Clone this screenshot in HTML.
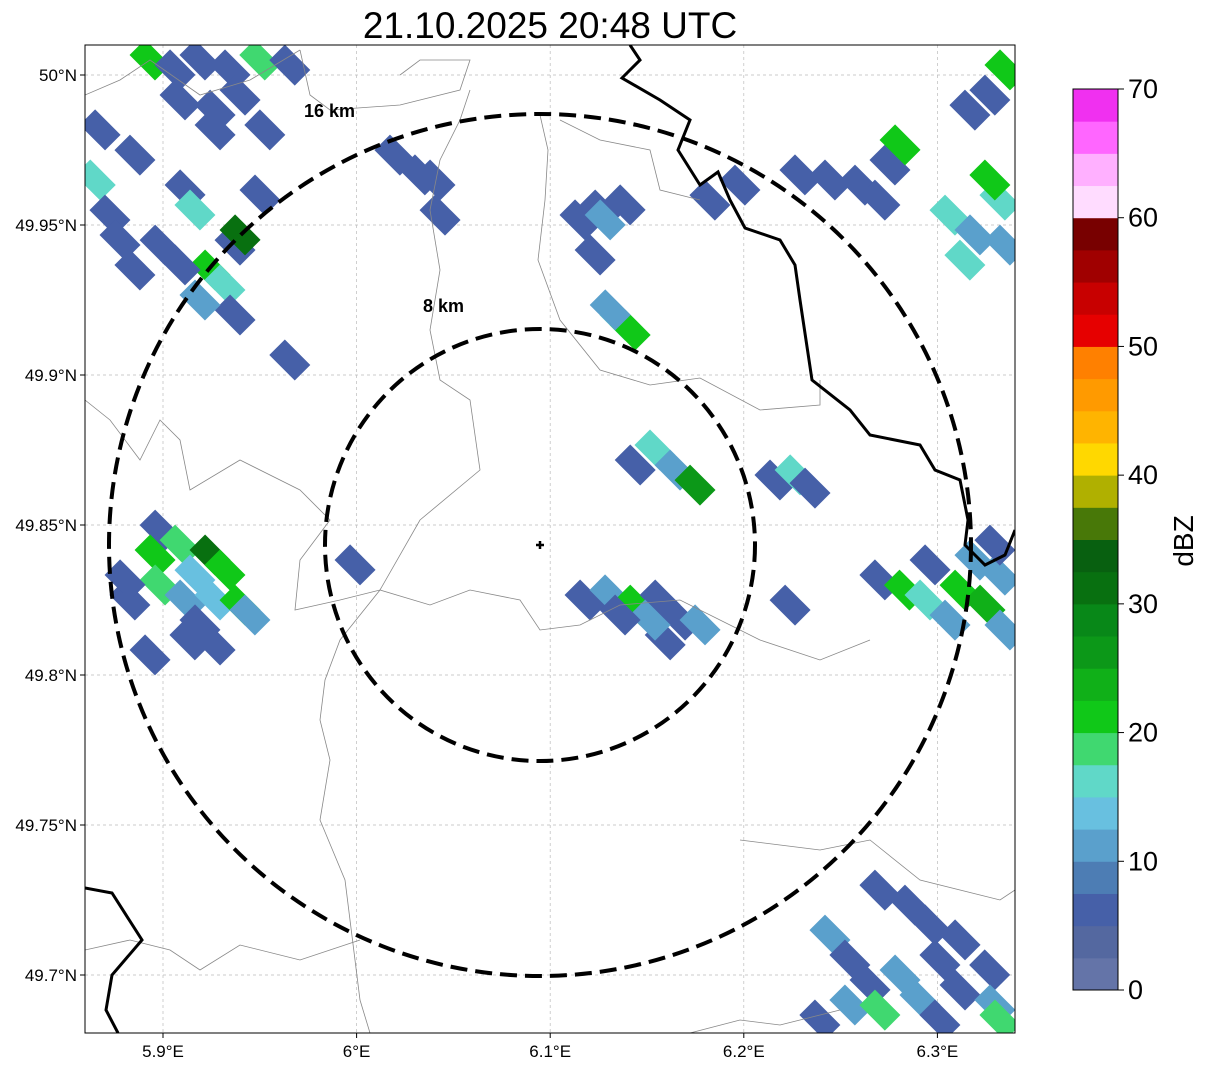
<!DOCTYPE html>
<html><head><meta charset="utf-8"><style>
body{margin:0;background:#fff;font-family:"Liberation Sans",sans-serif}
svg text{font-family:"Liberation Sans",sans-serif}
</style></head><body>
<svg id="s" width="1207" height="1069" xmlns="http://www.w3.org/2000/svg">
<defs><clipPath id="clip"><rect x="85" y="45" width="930" height="988"/></clipPath></defs>
<text x="550" y="38" text-anchor="middle" font-size="37">21.10.2025 20:48 UTC</text>
<g id="grid"></g>
<g id="cells" clip-path="url(#clip)"></g>
<g clip-path="url(#clip)" fill="none" stroke="#888" stroke-width="0.8">
<polyline points="540,115 548,150 545,200 538,260 560,320 600,370 650,385 700,378 760,410 820,405 820,380"/>
<polyline points="85,95 120,80 150,60 200,95 250,80 300,50"/>
<polyline points="300,50 310,95 330,110 400,105 460,90 470,60 420,60 400,75"/>
<polyline points="470,90 460,120 440,160 430,210 440,270 430,330 440,380 470,400 480,470 420,520 380,590 340,640 325,680 320,720 330,760 320,820 345,880 360,1000 370,1033"/>
<polyline points="85,400 110,420 140,460 160,420 180,440 190,490 240,460 300,490 330,520 300,560 295,610 340,600 380,590 430,605 470,590 520,600 540,630 580,625 620,605 680,600 720,620 760,640 820,660 870,640"/>
<polyline points="85,950 130,940 170,950 200,970 240,945 300,960 360,940"/>
<polyline points="560,120 600,140 650,150 660,190 700,200"/>
<polyline points="740,840 820,850 870,840 920,880 1000,900 1015,890"/>
<polyline points="690,1033 740,1020 780,1025 840,1010"/>
</g>
<g clip-path="url(#clip)" fill="none" stroke="#000" stroke-width="3">
<polyline points="630,45 640,60 622,78 660,100 690,120 678,150 700,185 718,172 730,200 745,228 780,240 795,265 800,300 812,380 850,410 870,435 920,445 935,470 960,480 968,520 965,545 985,565 1005,555 1015,530"/>
<polyline points="85,888 112,893 142,940 112,975 106,1010 118,1033"/>
</g>
<g clip-path="url(#clip)" fill="none" stroke="#000" stroke-width="4" stroke-dasharray="17,8">
<ellipse cx="540" cy="545" rx="431" ry="431"/>
<ellipse cx="540" cy="545" rx="215" ry="216"/>
</g>
<text x="304" y="117" font-size="18" font-weight="bold">16 km</text>
<text x="423" y="312" font-size="18" font-weight="bold">8 km</text>
<path d="M536 545 H544 M540 541 V549" stroke="#000" stroke-width="2.5"/>
<rect x="85" y="45" width="930" height="988" fill="none" stroke="#000" stroke-width="1"/>
<g id="axes"></g>
<g id="cbar"></g>
<text transform="translate(1193,541) rotate(-90)" text-anchor="middle" font-size="28">dBZ</text>
</svg>
<script>
const lonTicks=[5.9,6.0,6.1,6.2,6.3];
const lonLabels=["5.9°E","6°E","6.1°E","6.2°E","6.3°E"];
const latTicks=[50.0,49.95,49.9,49.85,49.8,49.75,49.7];
const latLabels=["50°N","49.95°N","49.9°N","49.85°N","49.8°N","49.75°N","49.7°N"];
const cbTicks=[0,10,20,30,40,50,60,70];
const cbColors=["#6474a8","#5468a0","#4660a8","#4d7db4","#5aa0cc","#68c0e0","#60d8c8","#40d870","#10c818","#10b018","#0c9818","#088818","#087010","#086010","#487808","#b0b000","#ffd800","#ffb400","#ff9a00","#ff8000","#e60000","#c80000","#a00000","#780000","#ffdcff","#ffb0ff","#ff66ff","#f030f0"];
const cellLon=[5.8675,5.865,5.8726,5.8778,5.8855,5.8933,5.9062,5.9191,5.9346,5.95,5.9655,5.9088,5.9269,5.9398,5.9269,5.9114,5.9165,5.9243,5.932,5.9088,5.9372,5.9398,5.8985,5.9526,5.9501,5.9655,5.8855,5.9372,5.9191,
6.0198,6.0327,6.0405,6.0431,6.1154,6.1258,6.1387,6.1284,6.1232,6.1361,6.1413,6.131,
6.1825,6.198,6.229,6.2445,6.26,6.2755,6.2807,6.2703,6.3168,6.3271,6.3349,6.3065,6.3194,6.3323,6.3271,6.3142,6.3349,
6.1541,6.1645,6.1748,6.1439,6.2161,6.2265,6.2342,6.118,6.1309,6.1439,6.1568,6.1671,6.1594,6.1774,6.1516,6.1361,5.9992,6.2239,
5.8985,5.8959,5.9088,5.9243,5.932,5.8829,5.8985,5.9114,5.9191,5.9269,5.9398,5.9449,5.8933,5.9139,5.9269,5.8804,5.9165,
6.2703,6.283,6.2962,6.2936,6.3117,6.3246,6.3323,6.3065,6.3297,6.3349,6.3194,
6.2703,6.2858,6.2962,6.2445,6.2548,6.2652,6.2807,6.3013,6.3117,6.327,6.2548,6.2703,6.291,6.3117,6.3297,6.3323,6.3013,6.2393];
const cellLat=[49.9817,49.965,49.9533,49.945,49.935,50.005,50.0017,50.005,50.0017,50.005,50.0033,49.9917,49.9883,49.9933,49.9817,49.9617,49.955,49.935,49.93,49.9367,49.9433,49.9467,49.9433,49.9817,49.96,49.905,49.9733,49.92,49.925,
49.9733,49.9667,49.965,49.9533,49.9517,49.955,49.9567,49.9517,49.94,49.9183,49.915,49.9217,
49.9583,49.9633,49.9667,49.965,49.9633,49.97,49.9767,49.9583,49.9883,49.9933,50.0017,49.9533,49.9467,49.9583,49.965,49.9383,49.9433,
49.875,49.8683,49.8633,49.87,49.865,49.8667,49.8623,49.825,49.8267,49.8233,49.825,49.8183,49.8117,49.8167,49.8183,49.82,49.8367,49.8233,
49.8483,49.84,49.8433,49.84,49.835,49.825,49.83,49.825,49.8167,49.825,49.8233,49.82,49.8067,49.8117,49.81,49.8317,49.8333,
49.8317,49.8283,49.8367,49.825,49.8283,49.8233,49.8333,49.8183,49.8433,49.815,49.8383,
49.7283,49.7233,49.7167,49.7133,49.705,49.6967,49.7,49.705,49.7117,49.7017,49.69,49.6883,49.6917,49.695,49.69,49.685,49.685,49.685];
const cellDbz=[5,15,5,7,5,20,5,7,5,18,5,7,5,5,5,5,15,20,15,5,7,32,5,5,5,5,5,5,10,
5,7,5,5,5,7,5,12,5,15,20,10,
7,5,5,7,5,5,20,5,5,7,20,15,12,16,22,15,10,
15,12,25,5,5,17,5,5,12,20,7,5,7,10,10,7,5,5,
5,22,18,30,22,7,18,12,5,14,20,12,5,7,7,7,14,
5,20,7,15,22,24,12,12,5,10,12,
5,7,5,10,5,7,12,7,5,7,12,18,10,7,12,18,5,7];
const X=lon=>163+(lon-5.9)*1936;
const Y=lat=>75+(50-lat)*3000;
const NS="http://www.w3.org/2000/svg";
function mk(t,a,p){const e=document.createElementNS(NS,t);for(const k in a)e.setAttribute(k,a[k]);p.appendChild(e);return e;}
const grid=document.getElementById('grid'),axes=document.getElementById('axes'),cells=document.getElementById('cells'),cbar=document.getElementById('cbar');
lonTicks.forEach((v,i)=>{const x=X(v);
const g=mk('line',{x1:x,x2:x,y1:45,y2:1033,stroke:'#bbb','stroke-width':0.7,'stroke-dasharray':'3,3'},grid);


const tk=mk('line',{x1:x,x2:x,y1:1033,y2:1038,stroke:'#000'},axes);


const t=mk('text',{x:x,y:1057,'text-anchor':'middle','font-size':17},axes);t.textContent=lonLabels[i];

});
latTicks.forEach((v,i)=>{const y=Y(v);
const g=mk('line',{x1:85,x2:1015,y1:y,y2:y,stroke:'#bbb','stroke-width':0.7,'stroke-dasharray':'3,3'},grid);


const tk=mk('line',{x1:80,x2:85,y1:y,y2:y,stroke:'#000'},axes);


const t=mk('text',{x:77,y:y+6,'text-anchor':'end','font-size':17},axes);t.textContent=latLabels[i];

});
const colorOf=d=>cbColors[Math.max(0,Math.min(27,Math.floor(d/2.5)))];
cellLon.forEach((lon,i)=>{const x=X(lon),y=Y(cellLat[i]);
const r=mk('rect',{x:x-18,y:y-11,width:36,height:22,fill:colorOf(cellDbz[i]),transform:`rotate(45 ${x} ${y})`},cells);

});
const cbY=v=>990-(v/70)*901;
cbColors.forEach((c,i)=>{const y1=cbY((i+1)*2.5),y0=cbY(i*2.5);
const r=mk('rect',{x:1073,y:y1,width:45,height:y0-y1+0.5,fill:c},cbar);

});
const fr=mk('rect',{x:1073,y:89,width:45,height:901,fill:'none',stroke:'#000'},cbar);


cbTicks.forEach(v=>{const y=cbY(v);
const tk=mk('line',{x1:1118,x2:1124,y1:y,y2:y,stroke:'#000'},cbar);


const t=mk('text',{x:1128,y:y+9,'font-size':27},cbar);t.textContent=v;

});
</script>
</body></html>
